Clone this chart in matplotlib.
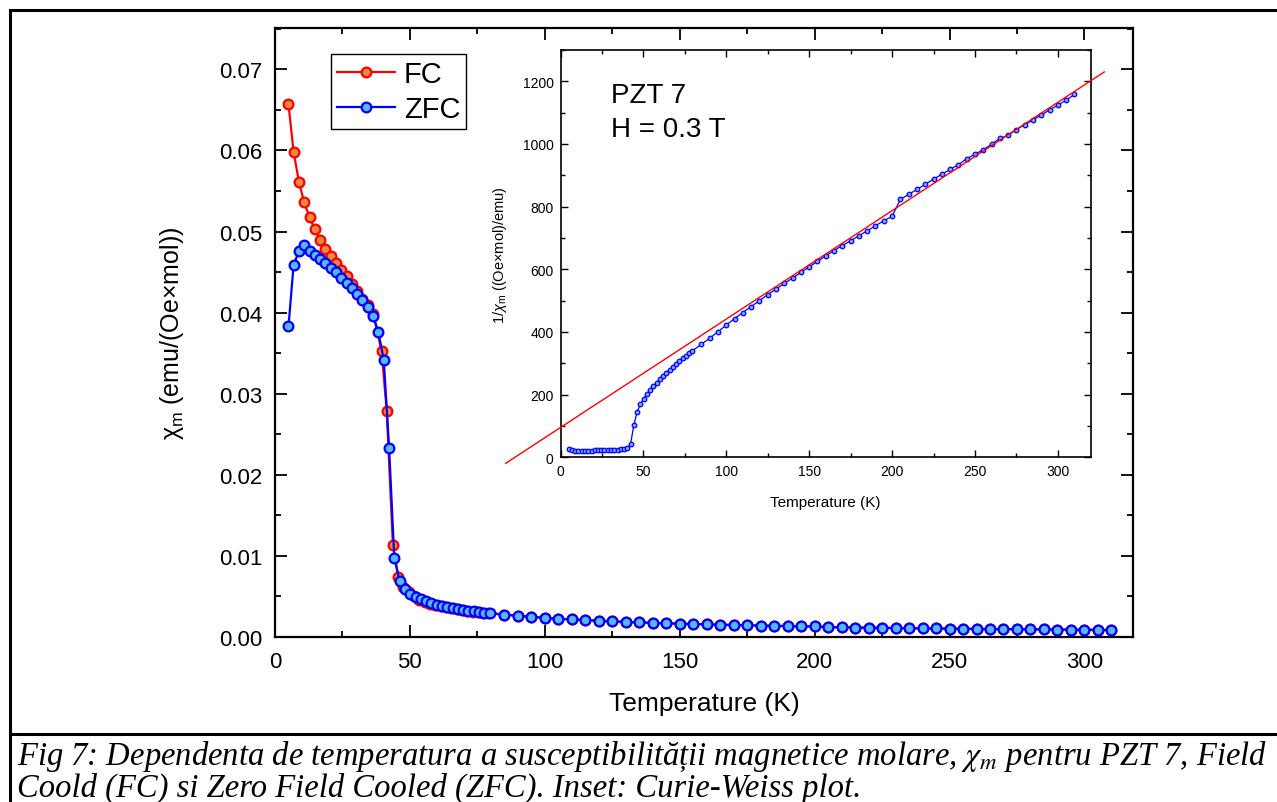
import matplotlib
matplotlib.use("Agg")
import matplotlib.pyplot as plt
from matplotlib.lines import Line2D
from matplotlib.ticker import MultipleLocator

plt.rcParams["font.family"] = ["Liberation Sans", "DejaVu Sans"]
plt.rcParams["mathtext.fontset"] = "custom"
plt.rcParams["mathtext.rm"] = "Liberation Sans"
plt.rcParams["mathtext.it"] = "Liberation Sans:italic"

# ---- data ----
T_LOW = [5.0, 6.9, 8.9, 10.8, 12.8, 14.7, 16.7, 18.7, 20.6, 22.6, 24.6, 26.5,
         28.5, 30.5, 32.4, 34.4, 36.4, 38.3, 40.3, 42.3, 44.2, 46.2, 48.2, 50.1,
         52.1, 54.1, 56.0, 58.0, 60.0, 61.9, 63.9, 65.8, 67.8, 69.8, 71.7, 73.7,
         75.7, 77.6, 79.6]
T_HIGH = [85, 90, 95, 100, 105, 110, 115, 120, 125, 130, 135, 140, 145, 150,
          155, 160, 165, 170, 175, 180, 185, 190, 195, 200, 205, 210, 215, 220,
          225, 230, 235, 240, 245, 250, 255, 260, 265, 270, 275, 280, 285, 290,
          295, 300, 305, 310]

ZFC_LOW = [0.0383, 0.0459, 0.0476, 0.0483, 0.0476, 0.0471, 0.0466, 0.0461,
           0.0455, 0.0450, 0.0443, 0.0436, 0.0430, 0.0423, 0.0416, 0.0407,
           0.0396, 0.0376, 0.0342, 0.0233, 0.0098, 0.0069, 0.0059, 0.00535,
           0.00495, 0.00465, 0.0044, 0.0042, 0.0040, 0.00385, 0.0037, 0.00357,
           0.00346, 0.00336, 0.00326, 0.00316, 0.00309, 0.00301, 0.00294]
CHI_HIGH = [0.00277, 0.00263, 0.00249, 0.00237, 0.00226, 0.00216, 0.00208,
            0.00200, 0.00193, 0.00186, 0.00180, 0.00175, 0.00169, 0.00164,
            0.00160, 0.00156, 0.00152, 0.00148, 0.00145, 0.00141, 0.00138,
            0.00135, 0.00132, 0.00130, 0.00122, 0.00119, 0.00117, 0.00115,
            0.00113, 0.00111, 0.00109, 0.00107, 0.00105, 0.00103, 0.00102,
            0.00100, 0.00098, 0.00097, 0.00096, 0.00094, 0.00093, 0.00092,
            0.00090, 0.00089, 0.00088, 0.00086]

FC_T_LOW = [5.0, 6.9, 8.9, 10.8, 12.8, 14.7, 16.7, 18.7, 20.6, 22.6, 24.6,
            26.5, 28.5, 30.5, 32.4, 34.4, 36.4, 39.5, 41.4, 43.7, 45.7, 47.6,
            49.6, 51.6, 53.5, 55.5, 57.5, 59.4, 61.4, 63.4, 65.3, 67.3, 69.3,
            71.2, 73.2, 75.2, 77.1, 79.1]
FC_LOW = [0.0657, 0.0598, 0.0561, 0.0536, 0.0518, 0.0503, 0.0490, 0.0479,
          0.0470, 0.0461, 0.0453, 0.0445, 0.0435, 0.0427, 0.0417, 0.0409,
          0.0398, 0.0353, 0.0279, 0.0113, 0.0074, 0.0062, 0.0055, 0.0050,
          0.0046, 0.00433, 0.0041, 0.00393, 0.00378, 0.00364, 0.00352,
          0.00341, 0.00331, 0.00321, 0.00312, 0.00304, 0.00297, 0.00290]

INV_LOW = [26, 22, 21, 20.7, 21, 21.2, 21.5, 21.7, 22, 22.2, 22.6, 22.9, 23.3,
           23.6, 24, 24.6, 25.3, 26.6, 29.2, 43, 102, 145, 169, 187, 202, 215,
           227, 238, 249, 260, 270, 280, 289, 298, 307, 316, 324, 332, 340]
INV_HIGH = [361, 380, 401, 422, 443, 462, 481, 500, 519, 537, 555, 572, 590,
            608, 625, 643, 660, 676, 691, 707, 723, 739, 755, 769, 823, 839,
            855, 871, 888, 903, 919, 934, 953, 967, 982, 999, 1018, 1028, 1046,
            1061, 1077, 1092, 1109, 1124, 1140, 1158]

FIT_T = [-33, 328]
FIT_INV = [-19, 1230]

W, H = 1277, 803
fig = plt.figure(figsize=(W / 100, H / 100), dpi=100)


def fx(px):
    return px / W


def fy(py):
    return 1 - py / H


# outer frame and caption separator
frame_kw = dict(color="black", lw=2.2, transform=fig.transFigure)
fig.add_artist(Line2D([fx(10), 1.0], [fy(11), fy(11)], **frame_kw))
fig.add_artist(Line2D([fx(10), fx(10)], [fy(11), 0.0], **frame_kw))
fig.add_artist(Line2D([fx(10), 1.0], [fy(735), fy(735)], **frame_kw))

# ---- main axes ----
ax = fig.add_axes([fx(275), fy(638), fx(1133) - fx(275), fy(29) - fy(638)])
ax.plot(FC_T_LOW + T_HIGH, FC_LOW + CHI_HIGH, "-o", color="red", lw=1.6,
        ms=7, mfc="#f08a3c", mec="red", mew=1.6, label="FC")
ax.plot(T_LOW + T_HIGH, ZFC_LOW + CHI_HIGH, "-o", color="#0000ff", lw=1.6,
        ms=7, mfc="#55b8ff", mec="#0000ff", mew=1.6, label="ZFC")
ax.set_xlim(0, 318)
ax.set_ylim(0, 0.0751)
ax.xaxis.set_major_locator(MultipleLocator(50))
ax.xaxis.set_minor_locator(MultipleLocator(25))
ax.yaxis.set_major_locator(MultipleLocator(0.01))
ax.yaxis.set_minor_locator(MultipleLocator(0.005))
ax.yaxis.set_major_formatter(plt.FormatStrFormatter("%.2f"))
for s in ax.spines.values():
    s.set_linewidth(1.6)
ax.tick_params(which="both", direction="in", top=True, right=True,
               labelsize=16, width=1.3)
ax.tick_params(which="major", length=8.5, pad=9)
ax.tick_params(which="minor", length=4.5)
ax.tick_params(axis="x", which="major", pad=10)
ax.tick_params(which="both", top=True, right=True, labeltop=False,
               labelright=False)
ax.set_xlabel("Temperature (K)", fontsize=19, labelpad=14)
ax.set_ylabel(r"$\mathrm{χ}_\mathrm{m}$ (emu/(Oe×mol))", fontsize=18,
              labelpad=24)
leg = ax.legend(loc="upper left", bbox_to_anchor=(0.065, 0.957),
                borderaxespad=0, fontsize=21, numpoints=1, fancybox=False,
                edgecolor="black", handlelength=2.0, handletextpad=0.3,
                labelspacing=0.25, borderpad=0.2, framealpha=1)
leg.get_frame().set_linewidth(1.0)

# ---- inset: Curie-Weiss plot ----
axi = fig.add_axes([fx(560.5), fy(458.3), fx(1091) - fx(560.5),
                    fy(51) - fy(458.3)])
axi.plot(FIT_T, FIT_INV, color="red", lw=1.0, clip_on=False, zorder=3)
axi.plot(T_LOW + T_HIGH, INV_LOW + INV_HIGH, "-o", color="#0000ff", lw=0.9,
         ms=3.3, mfc="#7aa6ff", mec="#0000ff", mew=0.9, zorder=2)
axi.set_xlim(0, 320)
axi.set_ylim(0, 1300)
axi.xaxis.set_major_locator(MultipleLocator(50))
axi.xaxis.set_minor_locator(MultipleLocator(25))
axi.yaxis.set_major_locator(MultipleLocator(200))
axi.yaxis.set_minor_locator(MultipleLocator(100))
for s in axi.spines.values():
    s.set_linewidth(1.2)
axi.tick_params(which="both", direction="in", top=True, right=True,
                labelsize=10, width=1.0, pad=5)
axi.tick_params(which="major", length=5)
axi.tick_params(which="minor", length=3)
axi.set_xlabel("Temperature (K)", fontsize=11, labelpad=12)
axi.set_ylabel(r"1/$\mathit{χ}_\mathrm{m}$ ((Oe×mol)/emu)", fontsize=10.5,
               labelpad=10)
axi.text(0.0946, 0.872, "PZT 7", transform=axi.transAxes, fontsize=20,
         va="baseline", ha="left")
axi.text(0.0946, 0.789, "H = 0.3 T", transform=axi.transAxes, fontsize=20,
         va="baseline", ha="left")

# ---- caption ----
cap_kw = dict(family="Liberation Serif", style="italic", fontsize=23.5,
              math_fontfamily="stix", ha="left", va="baseline")
fig.text(fx(17), fy(765),
         "Fig 7: Dependenta de temperatura a susceptibilității magnetice "
         r"molare, $\chi_m$ pentru PZT 7, Field", **cap_kw)
fig.text(fx(17), fy(797),
         "Coold (FC) si Zero Field Cooled (ZFC). Inset: Curie-Weiss plot.",
         **cap_kw)

fig.savefig("out.png", dpi=100)
